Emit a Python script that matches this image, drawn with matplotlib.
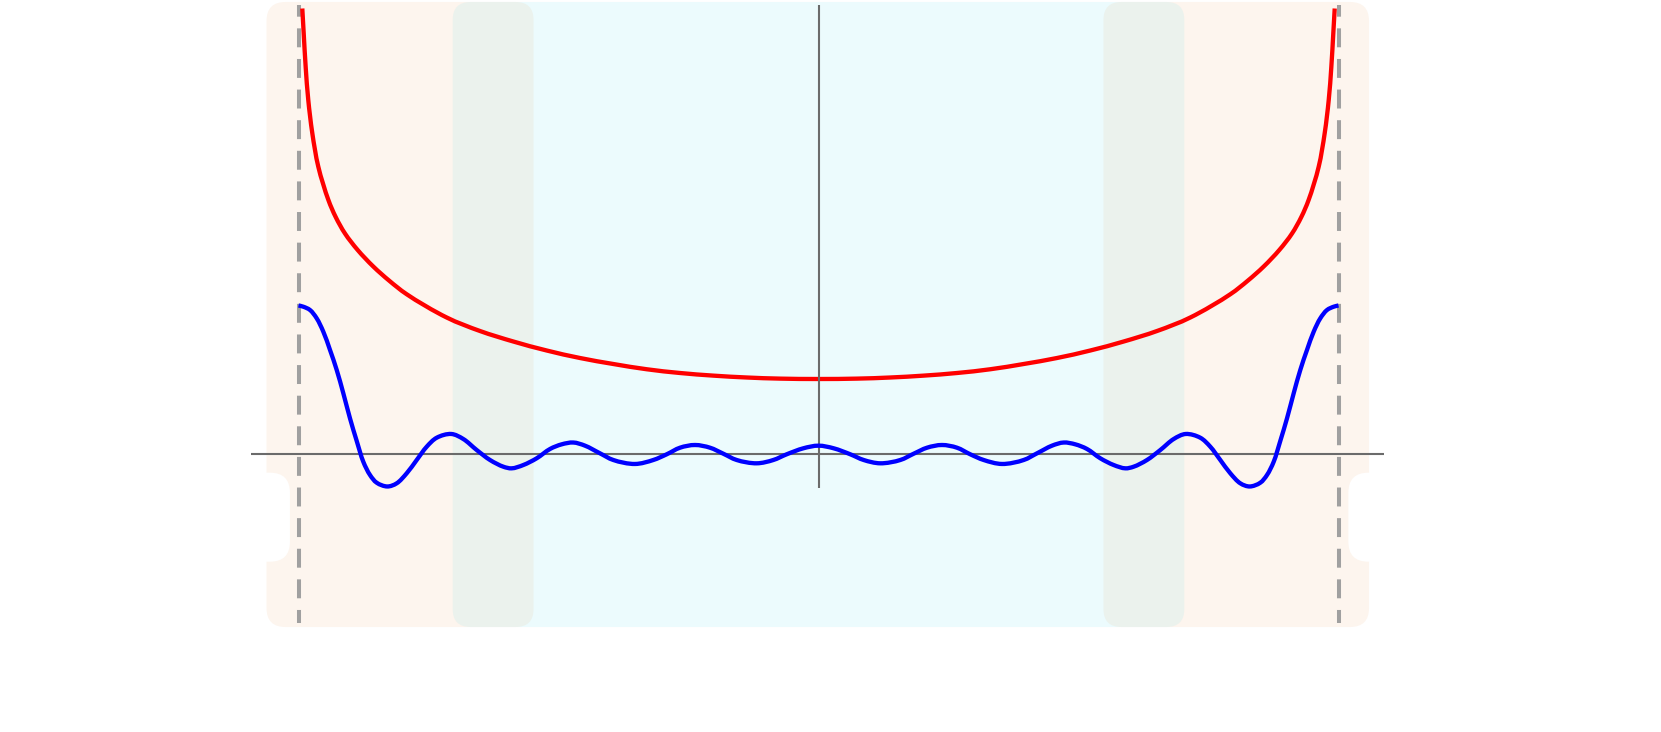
import matplotlib

matplotlib.use("Agg")
import matplotlib.pyplot as plt
import numpy as np
from matplotlib.patches import FancyBboxPatch, PathPatch, Rectangle
from matplotlib.path import Path


# curves (x on [-1, 1], y in curve units)
RED_X = [
    -0.9927, -0.9900, -0.9862, -0.9812, -0.9735, -0.9619, -0.9427, -0.9285,
    -0.9106, -0.8862, -0.8562, -0.8254, -0.7919, -0.7150, -0.6510, -0.5869,
    -0.5227, -0.4587, -0.3946, -0.3304, -0.2663, -0.2023, -0.1381, -0.0740,
    0.0,
    0.0740, 0.1381, 0.2023, 0.2663, 0.3304, 0.3946, 0.4587, 0.5227,
    0.5869, 0.6510, 0.7150, 0.7919, 0.8254, 0.8562, 0.8862, 0.9106,
    0.9285, 0.9427, 0.9619, 0.9735, 0.9812, 0.9862, 0.9900, 0.9927,
]
RED_Y = [
    5.94, 5.61, 5.16, 4.72, 4.28, 3.83, 3.39, 3.16,
    2.94, 2.72, 2.50, 2.31, 2.13, 1.82, 1.64, 1.50,
    1.38, 1.28, 1.20, 1.13, 1.08, 1.045, 1.02, 1.005,
    1.00,
    1.005, 1.02, 1.045, 1.08, 1.13, 1.20, 1.28, 1.38,
    1.50, 1.64, 1.82, 2.13, 2.31, 2.50, 2.72, 2.94,
    3.16, 3.39, 3.83, 4.28, 4.72, 5.16, 5.61, 5.94,
]

BLUE_X = [
    -1.0000, -0.9908, -0.9779, -0.9650, -0.9523, -0.9394, -0.9265, -0.9138,
    -0.9010, -0.8881, -0.8754, -0.8625, -0.8496, -0.8292, -0.8112, -0.7919,
    -0.7727, -0.7535, -0.7342, -0.7062, -0.6831, -0.6573, -0.6317, -0.6062,
    -0.5900, -0.5677, -0.5419, -0.5163, -0.4938, -0.4715, -0.4490, -0.4202,
    -0.3946, -0.3529, -0.3177, -0.2919, -0.2663, -0.2375, -0.2087, -0.1831,
    -0.1573, -0.1188, -0.0869, -0.0612, -0.0292, 0.0000,
    0.0292, 0.0612, 0.0869, 0.1188, 0.1573, 0.1831, 0.2087, 0.2375,
    0.2663, 0.2919, 0.3177, 0.3529, 0.3946, 0.4202, 0.4490, 0.4715,
    0.4938, 0.5163, 0.5419, 0.5677, 0.5900, 0.6062, 0.6317, 0.6573,
    0.6831, 0.7062, 0.7342, 0.7535, 0.7727, 0.7919, 0.8112, 0.8292,
    0.8496, 0.8625, 0.8754, 0.8881, 0.9010, 0.9138, 0.9265, 0.9394,
    0.9523, 0.9650, 0.9779, 0.9908, 1.0000,
]
BLUE_Y = [
    1.980, 1.964, 1.920, 1.809, 1.631, 1.387, 1.120, 0.809,
    0.476, 0.175, -0.103, -0.280, -0.383, -0.433, -0.391, -0.257,
    -0.080, 0.097, 0.217, 0.267, 0.200, 0.053, -0.080, -0.169,
    -0.191, -0.147, -0.057, 0.067, 0.129, 0.153, 0.111, 0.009,
    -0.080, -0.133, -0.080, -0.004, 0.084, 0.120, 0.084, 0.004,
    -0.080, -0.124, -0.080, -0.004, 0.076, 0.111,
    0.076, -0.004, -0.080, -0.124, -0.080, 0.004, 0.084, 0.120,
    0.084, -0.004, -0.080, -0.133, -0.080, 0.009, 0.111, 0.153,
    0.129, 0.067, -0.057, -0.147, -0.191, -0.169, -0.080, 0.053,
    0.200, 0.267, 0.217, 0.097, -0.080, -0.257, -0.391, -0.433,
    -0.383, -0.280, -0.103, 0.175, 0.476, 0.809, 1.120, 1.387,
    1.631, 1.809, 1.920, 1.964, 1.980,
]

# interval ends (dashed) and the inner shaded bands
EDGES = [-1.0, 1.0]
BANDS = [(-0.7035, -0.548), (0.548, 0.7035)]

PEACH = "#fdf5ee"
CYAN = "#ecfbfd"
GREEN = "#ebf2ed"
AXIS_GREY = "#6b6b6b"

# pixels per data unit in the reference
PX_X = 520
PX_Y = 75


def rounded_box(ax, x0, x1, y0, y1, color, radius_px, z):
    box = FancyBboxPatch(
        (x0, y0),
        x1 - x0,
        y1 - y0,
        boxstyle=f"round,pad=0,rounding_size={radius_px / PX_X}",
        mutation_aspect=PX_X / PX_Y,
        facecolor=color,
        edgecolor="none",
        zorder=z,
    )
    ax.add_patch(box)


def smooth_path(xs, ys):
    # centripetal Catmull-Rom through the sampled points, drawn as cubic Beziers
    pts = np.column_stack([np.asarray(xs) * PX_X, np.asarray(ys) * PX_Y])
    n = len(pts)
    verts = [pts[0]]
    codes = [Path.MOVETO]
    for i in range(n - 1):
        p0 = pts[i - 1] if i > 0 else pts[i]
        p1, p2 = pts[i], pts[i + 1]
        p3 = pts[i + 2] if i + 2 < n else pts[i + 1]
        d1 = np.linalg.norm(p1 - p0) ** 0.5
        d2 = np.linalg.norm(p2 - p1) ** 0.5
        d3 = np.linalg.norm(p3 - p2) ** 0.5
        if d1 < 1e-9:
            b1 = p1 + (p2 - p1) / 3
        else:
            b1 = (d1**2 * p2 - d2**2 * p0 + (2 * d1**2 + 3 * d1 * d2 + d2**2) * p1) / (
                3 * d1 * (d1 + d2)
            )
        if d3 < 1e-9:
            b2 = p2 - (p2 - p1) / 3
        else:
            b2 = (d3**2 * p1 - d2**2 * p3 + (2 * d3**2 + 3 * d3 * d2 + d2**2) * p2) / (
                3 * d3 * (d3 + d2)
            )
        verts += [b1, b2, p2]
        codes += [Path.CURVE4] * 3
    verts = np.array(verts) / [PX_X, PX_Y]
    return Path(verts, codes)


def main() -> None:
    fig = plt.figure(figsize=(16.61, 7.32), dpi=100)
    ax = fig.add_axes([0, 0, 1, 1])
    ax.set_xlim(-818.5 / PX_X, (1661 - 818.5) / PX_X)
    ax.set_ylim(-(732 - 454) / PX_Y, 454 / PX_Y)
    ax.axis("off")

    top, bottom = 6.027, -2.307

    # ticket-shaped background with notches on both sides
    rounded_box(ax, -1.0615, 1.0587, bottom, top, PEACH, 19, 0)
    ax.add_patch(Rectangle((-0.62, bottom), 1.24, top - bottom,
                           facecolor=CYAN, edgecolor="none", zorder=0.5))
    for x0, x1 in BANDS:
        rounded_box(ax, x0, x1, bottom, top, GREEN, 18, 1)
    rounded_box(ax, -1.3, -1.0165, -1.436, -0.249, "white", 20, 1.5)
    rounded_box(ax, 1.019, 1.3, -1.436, -0.249, "white", 20, 1.5)

    for x in EDGES:
        ax.plot([x, x], [5.987, -2.249], color="#a0a0a0", lw=2.9,
                linestyle=(1.8, (4.7, 2.9)), zorder=2)

    ax.plot([-1.092, 1.0875], [0, 0], color=AXIS_GREY, lw=1.5, zorder=3,
            solid_capstyle="butt")
    ax.plot([0, 0], [5.987, -0.457], color=AXIS_GREY, lw=1.5, zorder=3.5,
            solid_capstyle="butt")

    for xs, ys, color, z in [(RED_X, RED_Y, "#ff0000", 3), (BLUE_X, BLUE_Y, "#0000ff", 4)]:
        patch = PathPatch(smooth_path(xs, ys), facecolor="none", edgecolor=color,
                          lw=3.1, capstyle="butt", joinstyle="round", zorder=z)
        ax.add_patch(patch)

    fig.savefig("out.png", dpi=100, facecolor="white")


if __name__ == "__main__":
    main()
